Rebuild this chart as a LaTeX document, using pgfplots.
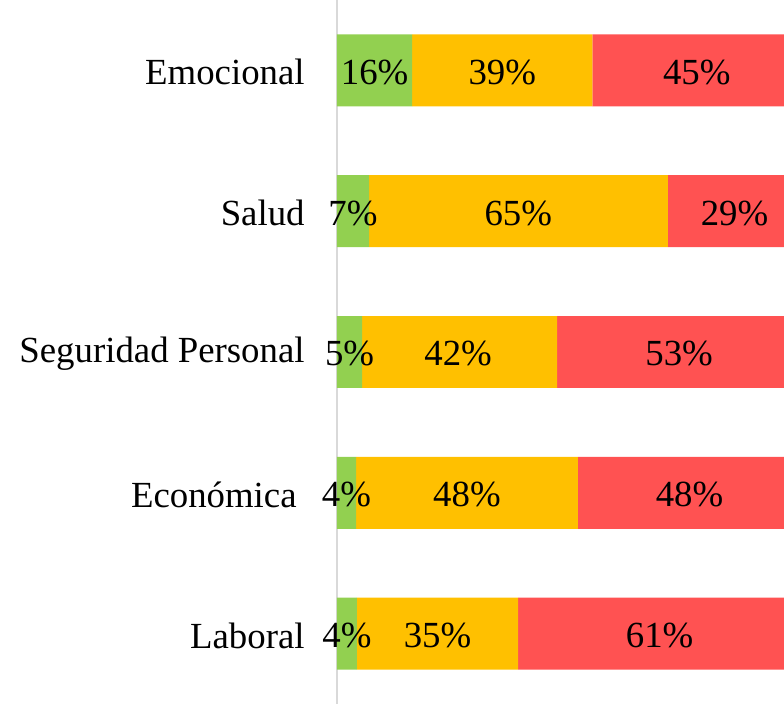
\documentclass[border=0pt]{standalone}
\usepackage{pgfplots}
\pgfplotsset{compat=1.18}
\usepackage{fontspec}
\setmainfont{Liberation Serif}
\definecolor{cg}{HTML}{92D050}
\definecolor{cy}{HTML}{FFC000}
\definecolor{cr}{HTML}{FF5252}
\definecolor{axgray}{HTML}{D9D9D9}
\pgfplotsset{
  common/.style={
    scale only axis, width=223.5pt, height=352pt,
    xmin=0, xmax=96.3, ymin=-0.5, ymax=4.5,
  }
}
\begin{document}
\fontsize{18.4pt}{22pt}\selectfont
\begin{tikzpicture}
\begin{axis}[
  common,
  xbar stacked,
  bar width=0.511,
  axis x line=none,
  axis y line*=left,
  y axis line style={draw=axgray, line width=1pt, -},
  ytick={0,1,2,3,4},
  yticklabels={Laboral, {Económica\rule{4pt}{0pt}}, Seguridad Personal, Salud, Emocional},
  major tick length=0pt,
  ytick style={draw=none},
  yticklabel style={inner sep=0pt, anchor=east, xshift=-16pt, yshift=-1pt, font=\fontsize{18.4pt}{22pt}\selectfont},
]
\addplot[fill=cg, draw=none] coordinates {(4.3,0) (4.1,1) (5.4,2) (6.9,3) (16.2,4)};
\addplot[fill=cy, draw=none] coordinates {(34.7,0) (47.8,1) (42.0,2) (64.4,3) (38.8,4)};
\addplot[fill=cr, draw=none] coordinates {(61.0,0) (48.1,1) (52.6,2) (28.7,3) (45.0,4)};
\coordinate (bl) at (rel axis cs:0,0);
\coordinate (tr) at (rel axis cs:1,1);
\end{axis}
\begin{axis}[
  common,
  hide axis,
  nodes near coords,
  point meta=explicit symbolic,
  every node near coord/.append style={anchor=center, text=black, inner sep=0pt, yshift=-1pt, font=\fontsize{18.4pt}{22pt}\selectfont},
]
\addplot[only marks, mark=none] coordinates {
  (2.15,0)[4\%] (2.05,1)[4\%] (2.7,2)[5\%] (3.45,3)[7\%] (8.1,4)[16\%]
  (21.65,0)[35\%] (28.0,1)[48\%] (26.1,2)[42\%] (39.05,3)[65\%] (35.6,4)[39\%]
  (69.5,0)[61\%] (75.95,1)[48\%] (73.7,2)[53\%] (85.65,3)[29\%] (77.5,4)[45\%]
};
\end{axis}
\pgfresetboundingbox
\path ([xshift=-168.5pt]bl) rectangle (tr);
\end{tikzpicture}
\end{document}
